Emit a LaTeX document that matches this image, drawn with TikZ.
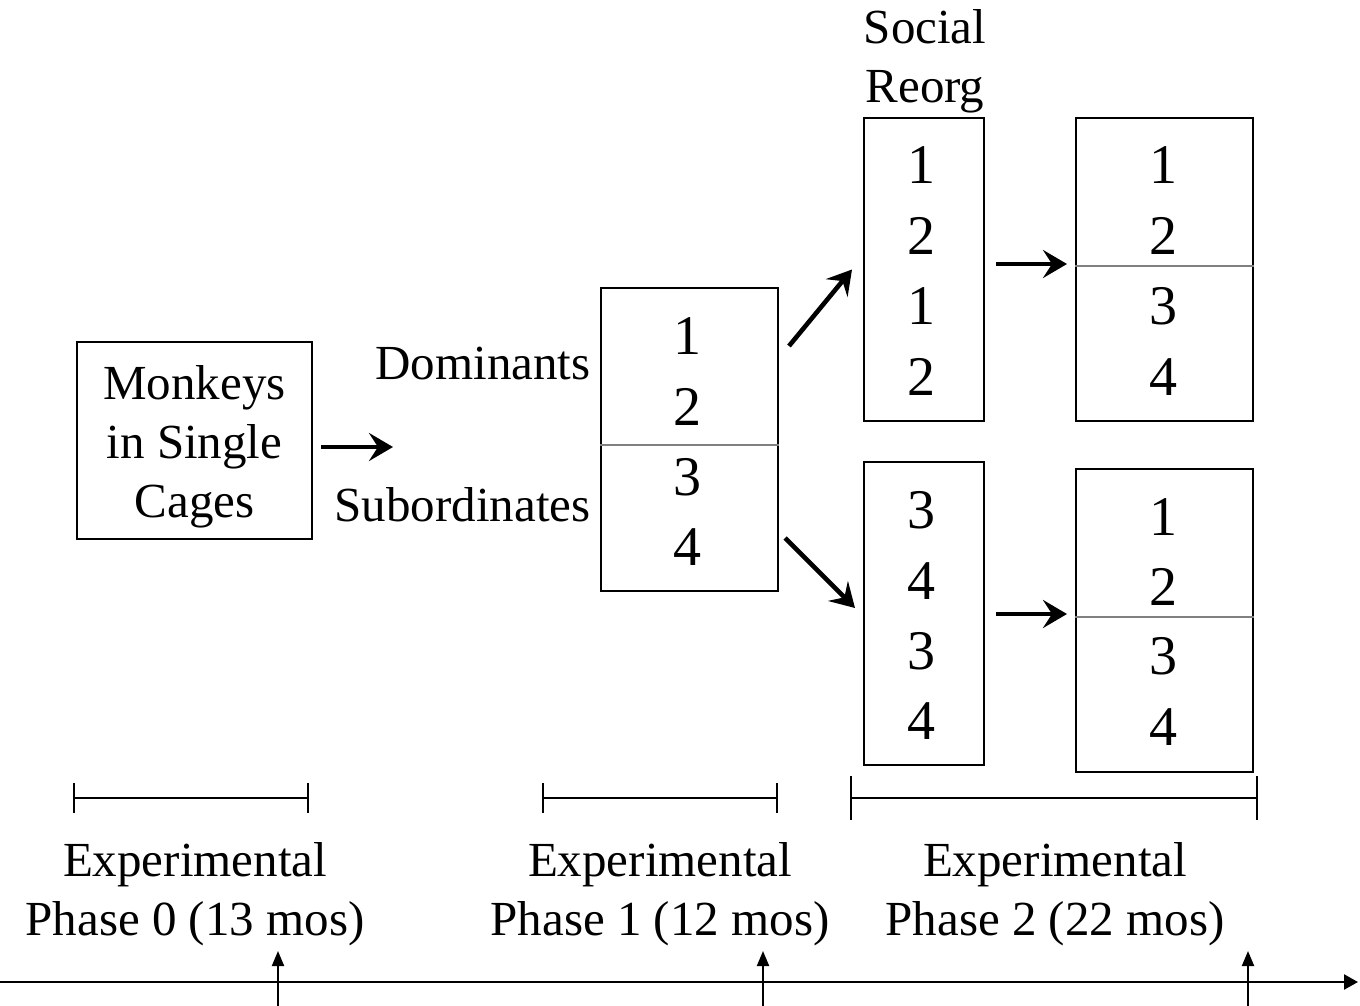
\documentclass[tikz,border=0pt]{standalone}
\usepackage{fontspec}
\setmainfont{Liberation Serif}
\usetikzlibrary{arrows.meta,calc}

\begin{document}
\begin{tikzpicture}[x=0.5pt, y=-0.5pt,
    txt/.style={font=\fontsize{24.5}{29.5}\selectfont, inner sep=0pt},
    digit/.style={font=\fontsize{28}{30}\selectfont, inner sep=0pt},
    cage/.style={draw, line width=1pt, minimum width=#1, minimum height=151.5pt, inner sep=0pt},
    divider/.style={draw=gray, line width=0.6pt},
    bigarrow/.style={line width=2.3pt, -{Stealth[length=12pt, width=14pt, inset=4.5pt]}},
    span/.style={line width=1pt, {Bar[width=#1]}-{Bar[width=#1]}},
    tick/.style={line width=1pt, -{Triangle[length=7.5pt, width=6pt]}}]
      \useasboundingbox (0,0) rectangle (1360,1006);

      % single cages
      \node [txt, draw, line width=1pt, minimum width=117.5pt, minimum height=98.5pt, align=center] (cages) at (194.5,440.5) {\rule{0pt}{23.5pt}Monkeys\\in Single\\Cages};
      \coordinate (split) at (393,447);
      \draw [bigarrow, shorten <=4pt] (cages.east |- split) -- (split);

      \node [txt, anchor=base east] (dom) at (591,379) {Dominants};
      \node [txt, anchor=base east] (sub) at (591,521) {Subordinates};

      % phase 1 group
      \node [cage=88.5pt] (p1) at (689.5,439.5) {};
      \draw [divider] (p1.west |- 0,445) -- (p1.east |- 0,445);
      \node [digit] (p1a) at (687,336) {1};
      \node [digit] (p1b) at (687,407) {2};
      \node [digit] (p1c) at (687,477) {3};
      \node [digit] (p1d) at (687,547) {4};

      % social reorganisation
      \node [txt, anchor=north, align=center] (reorg) at (925,9) {Social\\Reorg};
      \node [cage=60pt] (reorgA) at (924,269.5) {};
      \node [digit] (ra1) at (921,165) {1};
      \node [digit] (ra2) at (921,236) {2};
      \node [digit] (ra3) at (921,306) {1};
      \node [digit] (ra4) at (921,377) {2};

      \node [cage=60pt] (reorgB) at (924,613) {};
      \node [digit] (rb1) at (921,510) {3};
      \node [digit] (rb2) at (921,581) {4};
      \node [digit] (rb3) at (921,651) {3};
      \node [digit] (rb4) at (921,721) {4};

      \draw [bigarrow] ($(p1.north east)+(10,59)$) -- ($(reorgA.west)+(-11,0)$);
      \draw [bigarrow] ($(p1.south east)+(6,-54)$) -- ($(reorgB.west)+(-8,-5)$);

      % phase 2 groups
      \node [cage=88.5pt] (grpA) at (1164.5,269.5) {};
      \draw [divider] (grpA.west |- 0,266) -- (grpA.east |- 0,266);
      \node [digit] (ga1) at (1163,165) {1};
      \node [digit] (ga2) at (1163,236) {2};
      \node [digit] (ga3) at (1163,306) {3};
      \node [digit] (ga4) at (1163,377) {4};

      \node [cage=88.5pt] (grpB) at (1164.5,620.5) {};
      \draw [divider] (grpB.west |- 0,617) -- (grpB.east |- 0,617);
      \node [digit] (gb1) at (1163,517) {1};
      \node [digit] (gb2) at (1163,587) {2};
      \node [digit] (gb3) at (1163,656) {3};
      \node [digit] (gb4) at (1163,727) {4};

      \draw [bigarrow] ($(reorgA.east)+(11,-5.5)$) -- ($(grpA.west)+(-8,-5.5)$);
      \draw [bigarrow] ($(reorgB.east)+(11,1)$) -- ($(grpB.west)+(-8,-6.5)$);

      % phases
      \draw [span=15pt] (73,798) -- (309,798);
      \draw [span=15pt] (542,798) -- (778,798);
      \draw [span=22pt] (850,798) -- (1258,798);

      \node [txt, anchor=north, align=center] (ph0) at (195,842) {Experimental\\Phase 0 (13 mos)};
      \node [txt, anchor=north, align=center] (ph1) at (660,842) {Experimental\\Phase 1 (12 mos)};
      \node [txt, anchor=north, align=center] (ph2) at (1055,842) {Experimental\\Phase 2 (22 mos)};

      % time line
      \draw [line width=1.2pt, -{Triangle[length=7pt, width=7.5pt]}] (0,982) -- (1358,982);
      \draw [tick] (278,1006) -- (278,951);
      \draw [tick] (763,1006) -- (763,951);
      \draw [tick] (1248,1006) -- (1248,951);
    \end{tikzpicture}
\end{document}
